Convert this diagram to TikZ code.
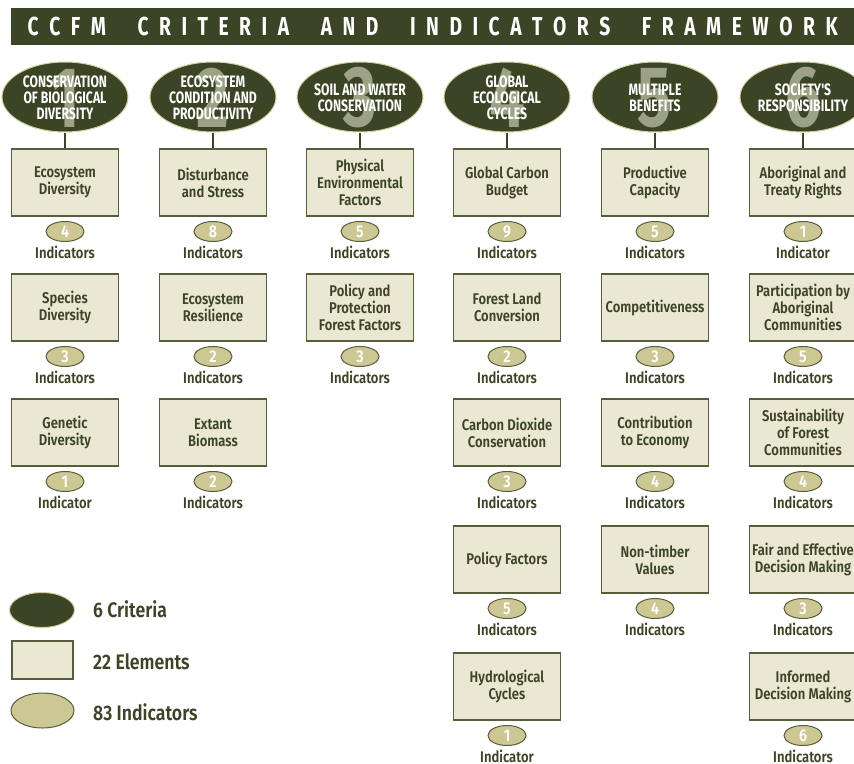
\documentclass[tikz,border=0pt]{standalone}
\usepackage{fontspec}
\setmainfont[FakeStretch=0.8]{Fira Sans}
\newfontfamily\medfont[FakeStretch=0.84]{Fira Sans SemiBold}
\newfontfamily\critfont[FakeStretch=0.74]{Fira Sans}
\usetikzlibrary{shapes.geometric}
\definecolor{dgreen}{HTML}{3B4424}
\definecolor{boxfill}{HTML}{EAE7D2}
\definecolor{boxline}{HTML}{575E3C}
\definecolor{indfill}{HTML}{CDC793}
\definecolor{numgray}{HTML}{9DA285}
\definecolor{rimtan}{HTML}{D6CE9E}
\tikzset{
  critell/.style={ellipse, fill=dgreen, draw=rimtan, line width=1pt, minimum width=126pt, minimum height=70pt, inner sep=0pt},
  critnum/.style={text=numgray, font=\critfont\bfseries\fontsize{86}{86}\selectfont, inner sep=0pt},
  crittext/.style={text=white, align=center, font=\critfont\bfseries\fontsize{16.5}{16}\selectfont, inner sep=0pt},
  elembox/.style={rectangle, fill=boxfill, draw=boxline, line width=1.3pt, minimum width=107pt, minimum height=67pt, align=center, text=dgreen, font=\medfont\fontsize{15.5}{17}\selectfont, inner sep=0pt},
  indell/.style={ellipse, fill=indfill, draw=boxline, line width=1pt, minimum width=38pt, minimum height=20pt, inner sep=0pt, text=white, font=\medfont\fontsize{17}{17}\selectfont},
  indlbl/.style={text=dgreen, font=\medfont\fontsize{15.5}{17}\selectfont, inner sep=0pt},
  conn/.style={draw=dgreen, line width=1.2pt},
  legtext/.style={anchor=west, text=dgreen, font=\medfont\fontsize{21}{21}\selectfont, inner sep=0pt},
}
\newcommand{\critnode}[4]{%
  \node[critell] (#1) at (#2,97) {};
  \node[critnum] (#1d) at (#2,98) {#3};
  \node[crittext] (#1t) at (#2,98) {#4};}
\newcommand{\elemnode}[6]{%
  \node[elembox] (#1) at (#2,#3) {#4};
  \node[indell] (#1n) at (#2,#3+49) {#5};
  \node[indlbl] (#1l) at (#2,#3+70) {#6};}
\begin{document}
\begin{tikzpicture}[x=1pt,y=-1pt]
\useasboundingbox (0,0) rectangle (854,763);
% title
\node[fill=dgreen, minimum width=843pt, minimum height=37pt, anchor=north west, inner sep=0pt, text=white, font=\critfont\bfseries\fontsize{26}{26}\selectfont] (title) at (11,8)
 {\makebox[810pt]{C\hfill C\hfill F\hfill M\hskip 0pt plus 3fill C\hfill R\hfill I\hfill T\hfill E\hfill R\hfill I\hfill A\hskip 0pt plus 3fill A\hfill N\hfill D\hskip 0pt plus 3fill I\hfill N\hfill D\hfill I\hfill C\hfill A\hfill T\hfill O\hfill R\hfill S\hskip 0pt plus 3fill F\hfill R\hfill A\hfill M\hfill E\hfill W\hfill O\hfill R\hfill K}\hspace{8pt}};
% criteria
\critnode{c1}{65}{1}{CONSERVATION\\OF BIOLOGICAL\\DIVERSITY}
\critnode{c2}{213}{2}{ECOSYSTEM\\CONDITION AND\\PRODUCTIVITY}
\critnode{c3}{360}{3}{SOIL AND WATER\\CONSERVATION}
\critnode{c4}{507}{4}{GLOBAL\\ECOLOGICAL\\CYCLES}
\critnode{c5}{655}{5}{MULTIPLE\\BENEFITS}
\critnode{c6}{803}{6}{SOCIETY'S\\RESPONSIBILITY}
% elements
\elemnode{e11}{65}{182.5}{Ecosystem\\Diversity}{4}{Indicators}
\elemnode{e12}{65}{307.5}{Species\\Diversity}{3}{Indicators}
\elemnode{e13}{65}{432.5}{Genetic\\Diversity}{1}{Indicator}
\elemnode{e21}{213}{182.5}{Disturbance\\and Stress}{8}{Indicators}
\elemnode{e22}{213}{307.5}{Ecosystem\\Resilience}{2}{Indicators}
\elemnode{e23}{213}{432.5}{Extant\\Biomass}{2}{Indicators}
\elemnode{e31}{360}{182.5}{Physical\\Environmental\\Factors}{5}{Indicators}
\elemnode{e32}{360}{307.5}{Policy and\\Protection\\Forest Factors}{3}{Indicators}
\elemnode{e41}{507}{182.5}{Global Carbon\\Budget}{9}{Indicators}
\elemnode{e42}{507}{307.5}{Forest Land\\Conversion}{2}{Indicators}
\elemnode{e43}{507}{432.5}{Carbon Dioxide\\Conservation}{3}{Indicators}
\elemnode{e44}{507}{559.5}{Policy Factors}{5}{Indicators}
\elemnode{e45}{507}{686.5}{Hydrological\\Cycles}{1}{Indicator}
\elemnode{e51}{655}{182.5}{Productive\\Capacity}{5}{Indicators}
\elemnode{e52}{655}{307.5}{Competitiveness}{3}{Indicators}
\elemnode{e53}{655}{432.5}{Contribution\\to Economy}{4}{Indicators}
\elemnode{e54}{655}{559.5}{Non-timber\\Values}{4}{Indicators}
\elemnode{e61}{803}{182.5}{Aboriginal and\\Treaty Rights}{1}{Indicator}
\elemnode{e62}{803}{307.5}{Participation by\\Aboriginal\\Communities}{5}{Indicators}
\elemnode{e63}{803}{432.5}{Sustainability\\of Forest\\Communities}{4}{Indicators}
\elemnode{e64}{803}{559.5}{Fair and Effective\\Decision Making}{3}{Indicators}
\elemnode{e65}{803}{686.5}{Informed\\Decision Making}{6}{Indicators}
% connectors
\foreach \k in {1,...,6} \draw[conn] (c\k) -- (e\k1);
% legend
\node[critell, minimum width=65pt, minimum height=35pt] (lg1) at (42,610) {};
\node[elembox, minimum width=61pt, minimum height=38pt] (lg2) at (42.5,660) {};
\node[indell, minimum width=63pt, minimum height=35pt] (lg3) at (42.5,710.5) {};
\node[legtext] (lg1t) at (93,609) {6 Criteria};
\node[legtext] (lg2t) at (93,662) {22 Elements};
\node[legtext] (lg3t) at (93,712) {83 Indicators};
\end{tikzpicture}
\end{document}
